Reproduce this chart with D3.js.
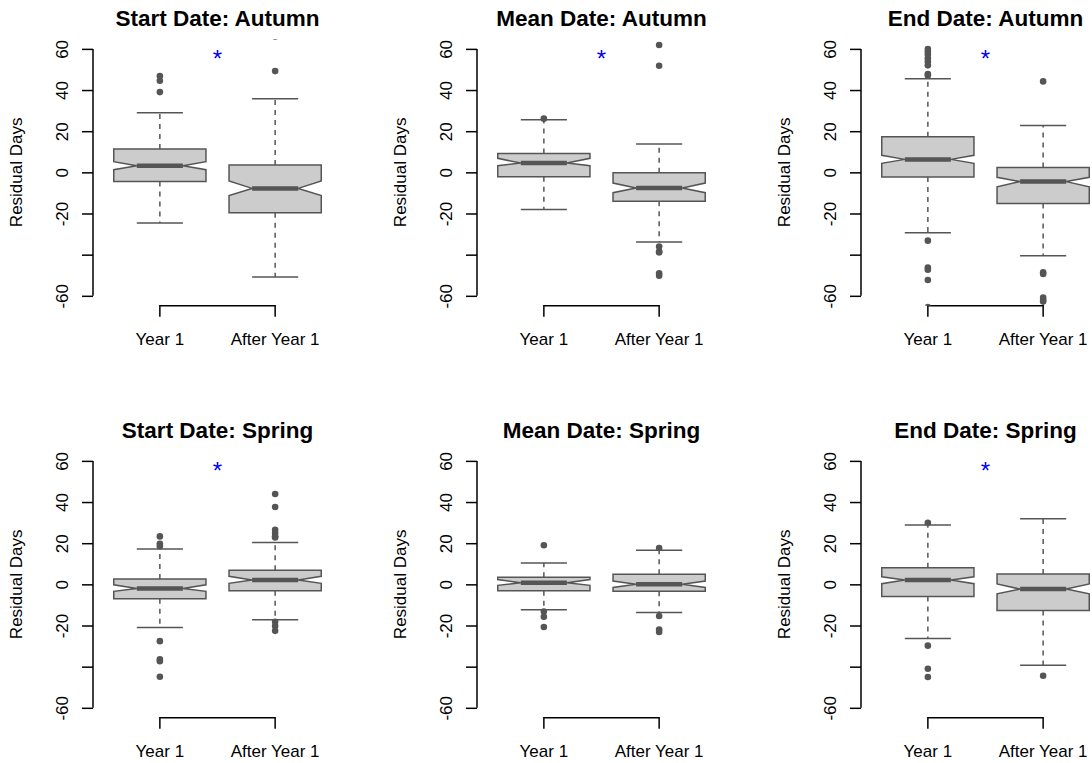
<!DOCTYPE html>
<html>
<head>
<meta charset="utf-8">
<script src="https://cdn.jsdelivr.net/npm/d3@7"></script>
<style>
  body { margin: 0; background: #fff; }
  svg { font-family: "Liberation Sans", Arial, Helvetica, sans-serif; }
</style>
</head>
<body>
<div id="viz"></div>
<script>

// panel titles, row by row
var titles = ["Start Date: Autumn", "Mean Date: Autumn", "End Date: Autumn",
              "Start Date: Spring", "Mean Date: Spring", "End Date: Spring"];

var groups = ["Year 1", "After Year 1"];

// box stats per panel, per group: [lower whisker, q1, notch low, median, notch high, q3, upper whisker]
var boxStats = [
  [[-24.6, -4.5, 1.3, 3.2, 5.2, 11.3, 29.0], [-50.8, -19.6, -11.3, -7.8, -4.2, 3.6, 35.8]],
  [[-18.0, -2.1, 3.2, 4.5, 6.8, 9.1, 25.6], [-33.8, -14.1, -9.9, -7.6, -5.2, -0.2, 13.8]],
  [[-29.3, -2.3, 4.4, 6.3, 8.3, 17.3, 45.5], [-40.5, -15.1, -7.0, -4.5, -2.4, 2.3, 22.8]],
  [[-21.0, -7.0, -3.4, -2.0, -0.2, 2.6, 17.2], [-17.2, -3.1, 0.5, 2.1, 3.9, 6.8, 20.3]],
  [[-12.4, -3.1, -0.5, 0.8, 2.3, 3.4, 10.4], [-13.7, -3.3, -1.5, 0.0, 1.6, 4.9, 16.6]],
  [[-26.3, -5.9, 0.3, 2.1, 3.7, 8.1, 28.8], [-39.3, -12.7, -4.6, -2.3, 0.2, 5.0, 31.9]]
];

// outliers per panel, per group
var outliers = [
  [[46.8, 44.5, 39.0], [66.0, 49.2]],
  [[26.1], [61.9, 51.8, -36.0, -38.5, -38.9, -49.0, -50.2]],
  [[59.9, 58.6, 57.3, 55.4, 53.8, 52.0, 47.8, 47.1, -33.2, -46.3, -47.3, -52.3, -65.5],
   [44.2, -48.6, -49.4, -60.9, -62.0, -62.8]],
  [[23.3, 19.7, 18.5, -27.6, -36.4, -37.4, -44.9],
   [43.9, 37.6, 26.5, 24.9, 23.4, 22.8, -18.2, -20.3, -22.6]],
  [[19.0, -13.2, -15.8, -20.7], [17.7, -15.4, -22.0, -23.1]],
  [[29.9, -29.8, -41.0, -45.0], [-44.4]]
];

// significance star shown between the boxes
var showStar = [true, true, true, true, false, true];
var starY = 58;

var yTicks = [-60, -40, -20, 0, 20, 40, 60];
var yTickLabels = ["-60", "", "-20", "0", "20", "40", "60"];

var W = 1092, H = 763,
    plotW = 249, plotH = 266.7,
    colStep = 384, rowStep = 412,
    left0 = 93, top0 = 39,
    boxCol = "#555555", boxFill = "#cccccc";

var svg = d3.select("#viz").append("svg")
    .attr("width", W)
    .attr("height", H);

var x = d3.scaleLinear().domain([0.42, 2.58]).range([0, plotW]),
    y = d3.scaleLinear().domain([-64.8, 64.8]).range([plotH, 0]);

var halfW = 0.4, notchW = 0.2;

titles.forEach(function(title, p){

    var col = p % 3, row = Math.floor(p / 3);
    var g = svg.append("g")
        .attr("transform", "translate(" + (left0 + col * colStep) + "," + (top0 + row * rowStep) + ")");

    g.append("clipPath").attr("id", "clip" + p)
      .append("rect").attr("width", plotW).attr("height", plotH);

    // title
    g.append("text")
        .attr("x", plotW / 2)
        .attr("y", -13.5)
        .attr("text-anchor", "middle")
        .style("font-size", "22.5px")
        .style("font-weight", "bold")
        .text(title);

    // y axis
    var yAxis = d3.axisLeft(y)
        .tickValues(yTicks)
        .tickSize(11)
        .tickFormat(function(d, i){ return yTickLabels[i]; });
    var ya = g.append("g").call(yAxis);
    ya.select(".domain").remove();
    ya.selectAll(".tick line").attr("stroke", "#000").attr("stroke-width", 1.5);
    ya.selectAll(".tick text")
        .attr("x", null).attr("dy", null)
        .attr("transform", "translate(-25,0) rotate(-90)")
        .attr("text-anchor", "middle")
        .attr("fill", "#000")
        .style("font-size", "17px")
        .style("font-family", "Liberation Sans, Arial, sans-serif");
    g.append("line")
        .attr("x1", 0).attr("x2", 0)
        .attr("y1", y(yTicks[0])).attr("y2", y(yTicks[yTicks.length - 1]))
        .attr("stroke", "#000").attr("stroke-width", 1.5);

    g.append("text")
        .attr("transform", "translate(-71," + (plotH / 2) + ") rotate(-90)")
        .attr("text-anchor", "middle")
        .style("font-size", "17px")
        .text("Residual Days");

    // x axis bracket
    g.append("path")
        .attr("d", "M" + x(1) + "," + (plotH + 11) + "V" + plotH + "H" + x(2) + "V" + (plotH + 11))
        .attr("fill", "none").attr("stroke", "#000").attr("stroke-width", 1.5);
    groups.forEach(function(name, i){
        g.append("text")
            .attr("x", x(i + 1))
            .attr("y", plotH + 39)
            .attr("text-anchor", "middle")
            .style("font-size", "17px")
            .text(name);
    });

    var pg = g.append("g").attr("clip-path", "url(#clip" + p + ")");

    boxStats[p].forEach(function(s, i){
        var at = i + 1,
            wl = s[0], q1 = s[1], nlo = s[2], med = s[3], nhi = s[4], q3 = s[5], wh = s[6];

        // whiskers
        [[q3, wh], [q1, wl]].forEach(function(w){
            pg.append("line")
                .attr("x1", x(at)).attr("x2", x(at))
                .attr("y1", y(w[0])).attr("y2", y(w[1]))
                .attr("stroke", boxCol).attr("stroke-width", 1.5)
                .attr("stroke-dasharray", "5,5");
            pg.append("line")
                .attr("x1", x(at - notchW)).attr("x2", x(at + notchW))
                .attr("y1", y(w[1])).attr("y2", y(w[1]))
                .attr("stroke", boxCol).attr("stroke-width", 1.5);
        });

        // notched box
        var pts = [[at - halfW, q3], [at + halfW, q3], [at + halfW, nhi], [at + notchW, med],
                   [at + halfW, nlo], [at + halfW, q1], [at - halfW, q1], [at - halfW, nlo],
                   [at - notchW, med], [at - halfW, nhi]];
        pg.append("path")
            .attr("d", d3.line().x(function(d){ return x(d[0]); }).y(function(d){ return y(d[1]); })(pts) + "Z")
            .attr("fill", boxFill)
            .attr("stroke", boxCol)
            .attr("stroke-width", 1.5);

        // median
        pg.append("line")
            .attr("x1", x(at - notchW)).attr("x2", x(at + notchW))
            .attr("y1", y(med)).attr("y2", y(med))
            .attr("stroke", boxCol).attr("stroke-width", 4.5);

        // outliers
        pg.selectAll(".out" + i)
            .data(outliers[p][i])
            .enter().append("circle")
                .attr("class", "out" + i)
                .attr("cx", x(at))
                .attr("cy", function(d){ return y(d); })
                .attr("r", 3.3)
                .attr("fill", boxCol);
    });

    if (showStar[p]) {
        g.append("text")
            .attr("x", x(1.5))
            .attr("y", y(starY))
            .attr("dy", "0.58em")
            .attr("text-anchor", "middle")
            .attr("fill", "#0000ff")
            .style("font-size", "24px")
            .text("*");
    }
});

</script>
</body>
</html>
